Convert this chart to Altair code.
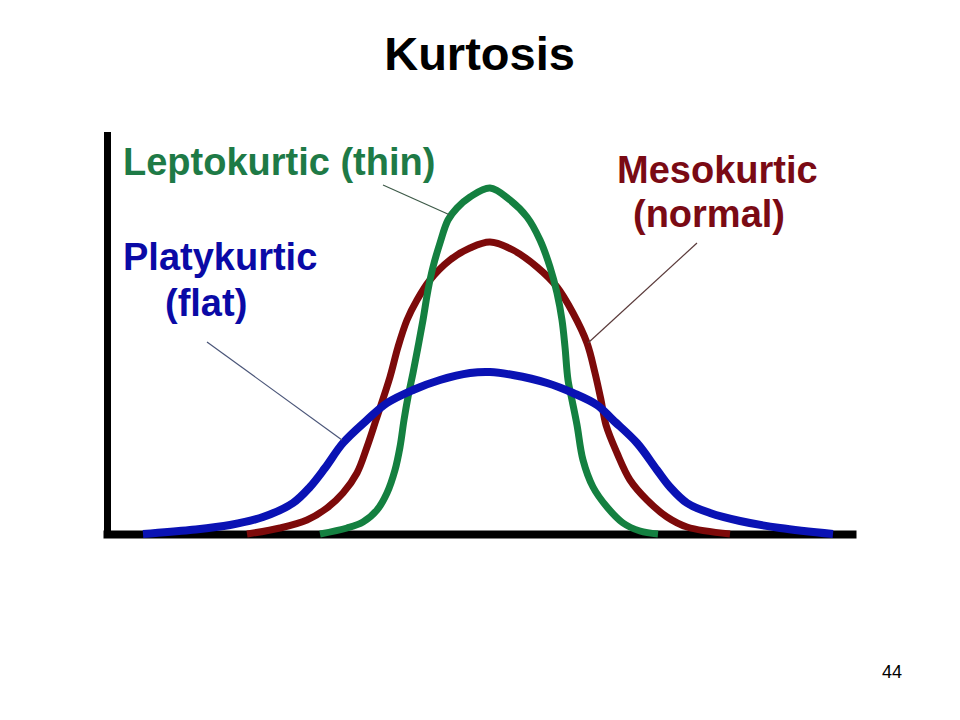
import altair as alt
import pandas as pd

# ---- curve values (x in standard units, y in density units) ----
platy_x = [-6.94, -6.0, -5.2, -4.54, -3.94, -3.6, -3.3, -2.94, -2.46, -2.06, -1.54, -1.0, -0.4, 0.0,
           0.46, 1.14, 1.66, 2.14, 2.46, 2.94, 3.34, 3.6, 3.94, 4.4, 5.0, 5.8, 6.86]
platy_y = [0.0, 0.01, 0.0225, 0.0425, 0.0775, 0.1175, 0.165, 0.2275, 0.285, 0.3275, 0.36, 0.385, 0.4025, 0.405,
           0.3975, 0.3775, 0.3525, 0.3225, 0.285, 0.2275, 0.16, 0.1175, 0.0775, 0.0525, 0.0325, 0.015, 0.0]

meso_x = [-4.86, -4.2, -3.66, -3.26, -2.94, -2.66, -2.46, -2.28, -2.0, -1.84, -1.66, -1.46, -1.2, -0.8, -0.4, 0.0,
          0.46, 0.94, 1.34, 1.66, 1.94, 2.1, 2.22, 2.32, 2.54, 2.8, 3.14, 3.54, 3.94, 4.8]
meso_y = [0.0, 0.015, 0.035, 0.065, 0.1025, 0.1525, 0.2175, 0.285, 0.3925, 0.4675, 0.535, 0.585, 0.635, 0.685, 0.715, 0.73,
          0.71, 0.6675, 0.6175, 0.5525, 0.4775, 0.4025, 0.335, 0.2725, 0.2025, 0.135, 0.085, 0.0425, 0.0175, 0.0]

lepto_x = [-3.4, -2.86, -2.54, -2.26, -2.06, -1.9, -1.8, -1.72, -1.64, -1.54, -1.44, -1.34, -1.24, -1.14, -1.0,
           -0.84, -0.66, -0.4, 0.0, 0.4, 0.74, 1.0, 1.2, 1.34, 1.44, 1.5, 1.56, 1.64, 1.74, 1.86, 2.06, 2.34,
           2.66, 3.0, 3.36]
lepto_y = [0.0, 0.015, 0.03, 0.06, 0.1025, 0.16, 0.2175, 0.285, 0.3425, 0.4025, 0.4675, 0.535, 0.61, 0.6675, 0.7275,
           0.785, 0.815, 0.8425, 0.865, 0.835, 0.7925, 0.735, 0.6675, 0.6025, 0.535, 0.4675, 0.385, 0.335, 0.2725,
           0.185, 0.1175, 0.0675, 0.0275, 0.0075, 0.0]

# ---- annotation labels ----
label_text = ["Leptokurtic (thin)", "Platykurtic", "(flat)", "Mesokurtic", "(normal)"]
label_x = [-7.34, -7.34, -6.5, 2.54, 2.86]
label_y = [0.8975, 0.66, 0.545, 0.8775, 0.7675]
label_color = ["#1e7a46", "#0a0aa6", "#0a0aa6", "#7a0a14", "#7a0a14"]

# ---- leader lines ----
lead_x = [-2.14, -5.66, 4.14]
lead_y = [0.8725, 0.48, 0.7275]
lead_x2 = [-0.8, -2.96, 1.96]
lead_y2 = [0.7975, 0.235, 0.4775]
lead_color = ["#3d5a48", "#4a5578", "#5a3a3a"]

page_number = ["44"]

X_DOMAIN = [-7.66, 7.24]
Y_DOMAIN = [0, 0.9975]
FONT = "Liberation Sans"

xs = alt.Scale(domain=X_DOMAIN, nice=False, zero=False)
ys = alt.Scale(domain=Y_DOMAIN, nice=False, zero=False)

def curve(xv, yv, color, width):
    df = pd.DataFrame({"x": xv, "y": yv})
    return alt.Chart(df).mark_line(color=color, strokeWidth=width, interpolate="catmull-rom",
                                   strokeCap="butt", strokeJoin="round").encode(
        x=alt.X("x:Q", scale=xs,
                axis=alt.Axis(title=None, labels=False, ticks=False, grid=False,
                              domainColor="black", domainWidth=8, domainCap="square")),
        y=alt.Y("y:Q", scale=ys,
                axis=alt.Axis(title=None, labels=False, ticks=False, grid=False,
                              domainColor="black", domainWidth=7, domainCap="square")),
    )

meso = curve(meso_x, meso_y, "#7d0a0a", 7)
lepto = curve(lepto_x, lepto_y, "#148040", 7)
platy = curve(platy_x, platy_y, "#0a12b4", 8)

lead_df = pd.DataFrame({"x": lead_x, "y": lead_y, "x2": lead_x2, "y2": lead_y2, "c": lead_color})
leaders = alt.Chart(lead_df).mark_rule(strokeWidth=1.2).encode(
    x=alt.X("x:Q", scale=xs), y=alt.Y("y:Q", scale=ys),
    x2="x2:Q", y2="y2:Q",
    color=alt.Color("c:N", scale=None),
)

lab_df = pd.DataFrame({"t": label_text, "x": label_x, "y": label_y, "c": label_color})
labels = alt.Chart(lab_df).mark_text(font=FONT, fontSize=38, fontWeight="bold",
                                     align="left", baseline="alphabetic").encode(
    x=alt.X("x:Q", scale=xs), y=alt.Y("y:Q", scale=ys),
    text="t:N", color=alt.Color("c:N", scale=None),
)

pg_df = pd.DataFrame({"t": page_number, "x": [7.84], "y": [-0.36]})
page = alt.Chart(pg_df).mark_text(font=FONT, fontSize=18, align="left", baseline="alphabetic",
                                  color="black").encode(
    x=alt.X("x:Q", scale=xs), y=alt.Y("y:Q", scale=ys), text="t:N",
)

chart = alt.layer(meso, lepto, platy, leaders, labels, page).properties(
    width=745, height=399,
    padding={"left": 99, "top": 127, "right": 100, "bottom": 178},
    autosize=alt.AutoSizeParams(type="none"),
    background="white",
    title=alt.TitleParams("Kurtosis", font=FONT, fontSize=47, fontWeight="bold",
                          color="black", anchor="middle", offset=55),
).configure_view(stroke=None)

chart.save("out.html", embed_options={"renderer": "svg", "actions": False})
